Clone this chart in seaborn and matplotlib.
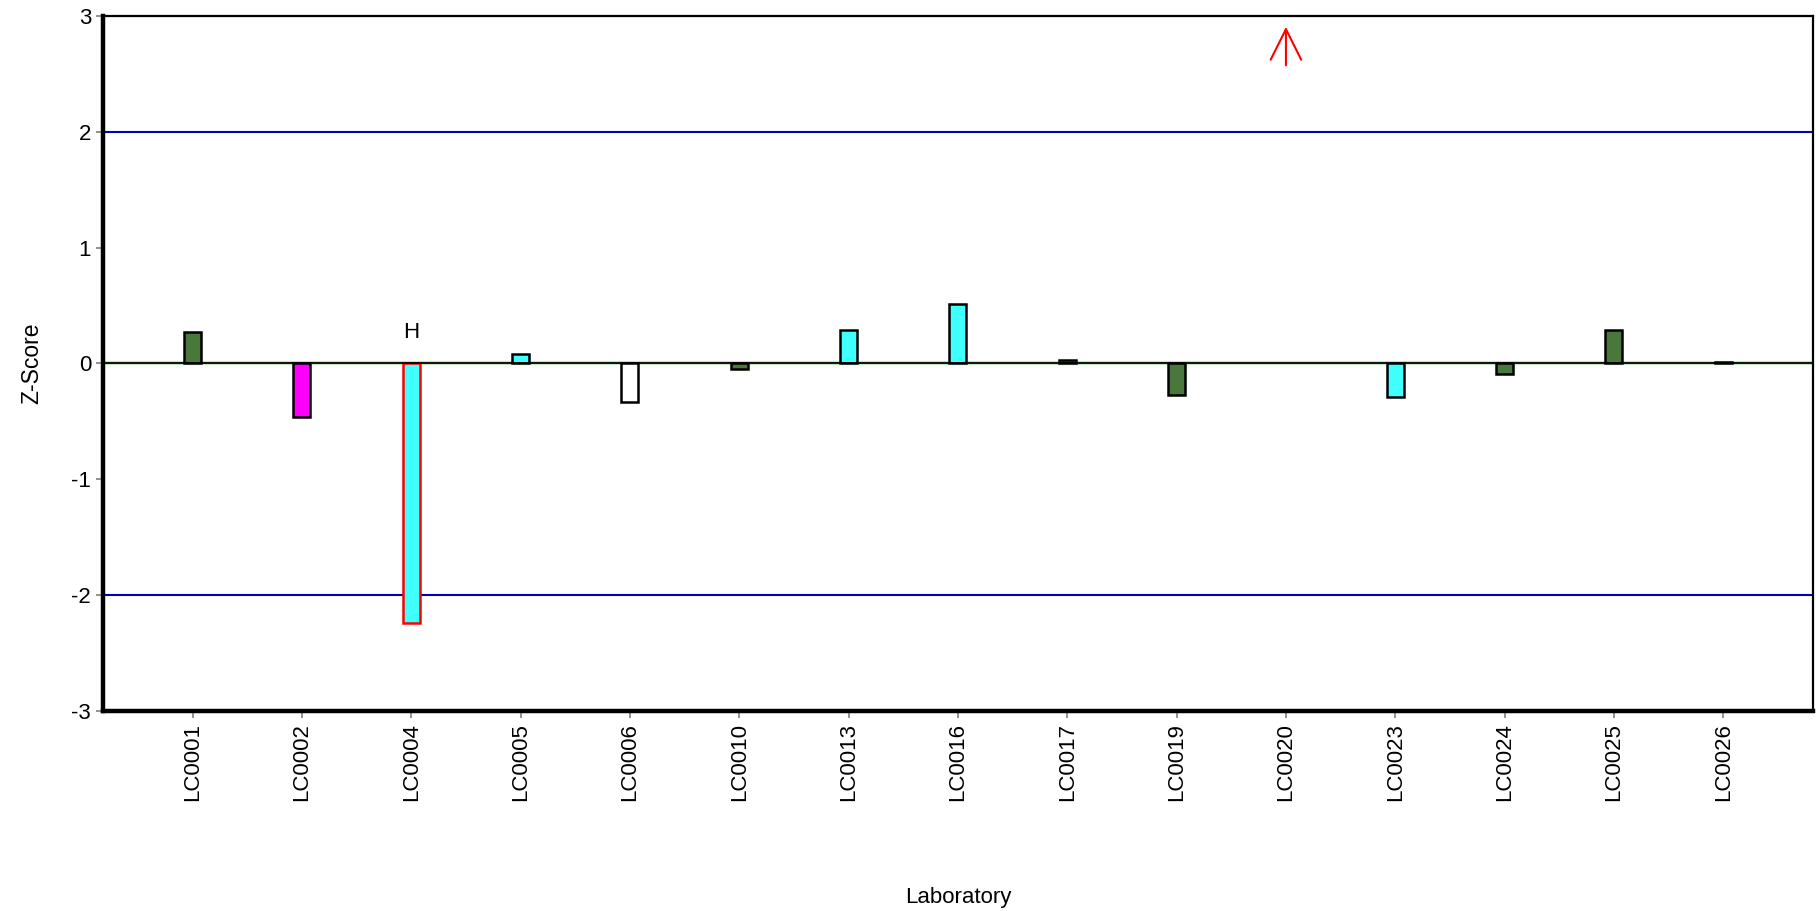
import numpy as np
import pandas as pd
import seaborn as sns
import matplotlib.pyplot as plt

# Data
labs = ['LC0001', 'LC0002', 'LC0004', 'LC0005', 'LC0006', 'LC0010', 'LC0013', 'LC0016',
        'LC0017', 'LC0019', 'LC0020', 'LC0023', 'LC0024', 'LC0025', 'LC0026']
zscores = [0.27, -0.46, -2.24, 0.08, -0.33, -0.05, 0.29, 0.51,
           0.03, -0.27, np.nan, -0.29, -0.09, 0.29, 0.01]
fills = ['#4a773c', '#ff00ff', '#3fffff', '#3fffff', '#ffffff', '#4a773c', '#3fffff', '#3fffff',
         '#4a773c', '#4a773c', '#ffffff', '#3fffff', '#4a773c', '#4a773c', '#4a773c']
edges = ['black', 'black', 'red', 'black', 'black', 'black', 'black', 'black',
         'black', 'black', 'black', 'black', 'black', 'black', 'black']
flag_lab = 'LC0004'
flag_text = 'H'
offscale_lab = 'LC0020'
action_limits = [-2, 2]

sns.set_style('white')
plt.rcParams['font.family'] = ['Liberation Sans', 'DejaVu Sans']
plt.rcParams['axes.unicode_minus'] = False
plt.rcParams['text.color'] = 'black'
plt.rcParams['axes.labelcolor'] = 'black'

df = pd.DataFrame({'lab': labs, 'z': zscores})

fig = plt.figure(figsize=(18.16, 9.11), dpi=100)
ax = fig.add_axes([0.0567, 0.2195, 0.9416, 0.763])

ax.axhline(0, color='#bfe6bf', lw=3.0, zorder=1)
ax.axhline(0, color='black', lw=1.3, zorder=4)
for lim in action_limits:
    ax.axhline(lim, color='#0000b4', lw=1.5, zorder=1)

sns.barplot(data=df, x='lab', y='z', hue='lab', order=labs, hue_order=labs,
            palette=dict(zip(labs, fills)), legend=False, width=0.155,
            dodge=False, saturation=1, ax=ax, zorder=3)

for p in ax.patches:
    i = int(round(p.get_x() + p.get_width() / 2))
    p.set_edgecolor(edges[i])
    p.set_linewidth(1.8)

# flag label and off-scale arrow
fi = labs.index(flag_lab)
ax.text(fi, 0.27, flag_text, ha='center', va='center', fontsize=16)
oi = labs.index(offscale_lab)
ax.annotate('', xy=(oi, 2.93), xytext=(oi, 2.55),
            arrowprops=dict(arrowstyle='->, head_length=1.1, head_width=0.55',
                            color='red', lw=1.5, mutation_scale=20))

ax.set_xlim(-0.82, len(labs) - 1 + 0.82)
ax.set_ylim(-3, 3)
ax.set_yticks([-3, -2, -1, 0, 1, 2, 3])
ax.set_yticklabels(['-3', '-2', '-1', '0', '1', '2', '3'])
ax.tick_params(axis='both', which='major', length=5, width=1.2, color='grey',
               labelsize=16, labelcolor='black', left=True, bottom=True)
ax.tick_params(axis='x', labelrotation=90)

ax.set_xlabel('Laboratory', fontsize=16, labelpad=62)
ax.set_ylabel('Z-Score', fontsize=16.5, labelpad=20)

for side in ['left', 'bottom']:
    ax.spines[side].set_linewidth(3.2)
    ax.spines[side].set_color('black')
for side in ['top', 'right']:
    ax.spines[side].set_linewidth(1.6)
    ax.spines[side].set_color('black')

fig.savefig('out.png', dpi=100)
